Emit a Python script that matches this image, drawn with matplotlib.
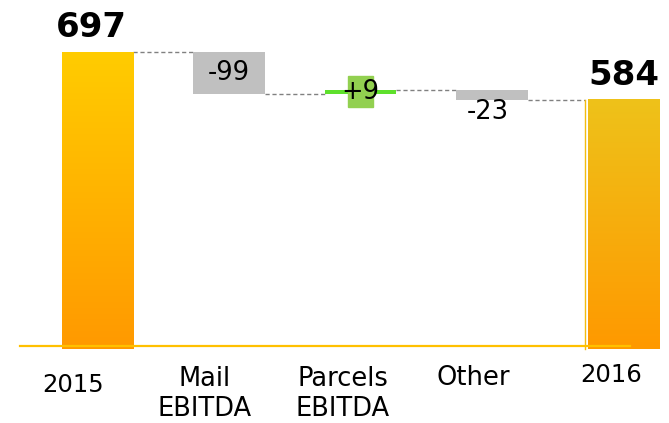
#!/usr/bin/env python3
import numpy as np
import matplotlib
matplotlib.use("Agg")
import matplotlib.pyplot as plt
from matplotlib.colors import LinearSegmentedColormap
from matplotlib.patches import Rectangle

# chart data
categories = ["2015", "Mail\nEBITDA", "Parcels\nEBITDA", "Other", "2016"]
values = [697, -99, 9, -23, 584]
value_labels = ["697", "-99", "+9", "-23", "584"]
is_total = [True, False, False, False, True]

# layout (pixel offsets for the labels)
cat_dx = [-24, -24, -18, -19, -12]
cat_dy = [-39, -48, -48, -32, -29]
cat_size = [17.5, 18.5, 18.5, 18.5, 17.5]
bar_w = 0.54
px = 131.5  # pixels per category step


def gradient_bar(ax, x, bottom, top, c_top, c_bot):
    cmap = LinearSegmentedColormap.from_list("g", [c_bot, c_top])
    grad = np.linspace(0, 1, 256).reshape(-1, 1)
    ax.imshow(grad, cmap=cmap, origin="lower", aspect="auto",
              extent=(x - bar_w / 2, x + bar_w / 2, bottom, top), zorder=2)


def main():
    fig = plt.figure(figsize=(6.69, 4.23), dpi=100)
    ax = fig.add_axes([0, 0, 1, 1])
    ax.set_xlim(-97.5 / px, (669 - 97.5) / px)
    k = 294 / 697.0  # pixels per unit
    ax.set_ylim(-77 / k, 346 / k)
    ax.axis("off")

    x = np.arange(len(categories))
    below = 7  # totals reach a little under the axis line

    # running levels
    level = 0
    starts, ends = [], []
    for v, tot in zip(values, is_total):
        if tot:
            starts.append(0)
            ends.append(v)
            level = v
        else:
            starts.append(level)
            level = level + v
            ends.append(level)

    for i in range(len(values)):
        lo, hi = min(starts[i], ends[i]), max(starts[i], ends[i])
        if is_total[i]:
            top_col = "#FFCC00" if i == 0 else "#EEC21A"
            gradient_bar(ax, x[i], -below, hi, top_col, "#FF9900")
        elif values[i] > 0:
            ax.bar(x[i], hi - lo, bottom=lo, width=bar_w, color="#5EE02C", zorder=2)
        else:
            ax.bar(x[i], hi - lo, bottom=lo, width=bar_w, color="#C0C0C0", zorder=2)

    # connectors
    for i in range(len(values) - 1):
        x0 = x[i] + bar_w / 2
        x1 = x[i + 1] - bar_w / 2
        if i + 1 == len(values) - 1:
            x1 -= 3 / px
        ax.plot([x0, x1], [ends[i], ends[i]], color="#808080", lw=1,
                dashes=(3, 2), zorder=1)

    # thin line beside the last total
    xl = x[-1] - bar_w / 2 - 3 / px
    ax.plot([xl, xl], [-below, ends[-1]], color="#F2BC10", lw=1, zorder=2)

    # axis line
    ax.plot([-77.5 / px, (630 - 97.5) / px], [0, 0], color="#FFC000", lw=1.6, zorder=3)

    # value labels
    for i, lab in enumerate(value_labels):
        mid = (starts[i] + ends[i]) / 2
        if is_total[i]:
            dx = -6 if i == 0 else 0
            ax.annotate(lab, (x[i], ends[i]), xytext=(dx, 15), textcoords="offset pixels",
                        ha="center", va="baseline", fontsize=24.5, fontweight="bold",
                        color="black", zorder=5)
        elif values[i] > 0:
            ax.add_patch(Rectangle((x[i] - 12.5 / px, mid - 15.5 / k), 25 / px, 31 / k,
                                   color="#92D050", zorder=3))
            ax.annotate(lab, (x[i], mid), xytext=(0, 0), textcoords="offset pixels",
                        ha="center", va="center", fontsize=18.5, zorder=5)
        elif i == 1:
            ax.annotate(lab, (x[i], mid), xytext=(0, 0), textcoords="offset pixels",
                        ha="center", va="center", fontsize=18.5, zorder=5)
        else:
            ax.annotate(lab, (x[i], min(starts[i], ends[i])), xytext=(-4, -12),
                        textcoords="offset pixels", ha="center", va="center",
                        fontsize=18.5, zorder=5)

    # category labels
    for i, cat in enumerate(categories):
        ax.annotate(cat, (x[i], 0), xytext=(cat_dx[i], cat_dy[i]), textcoords="offset pixels",
                    ha="center", va="center", fontsize=cat_size[i], linespacing=1.2)

    fig.savefig("out.png", dpi=100)


if __name__ == "__main__":
    main()
